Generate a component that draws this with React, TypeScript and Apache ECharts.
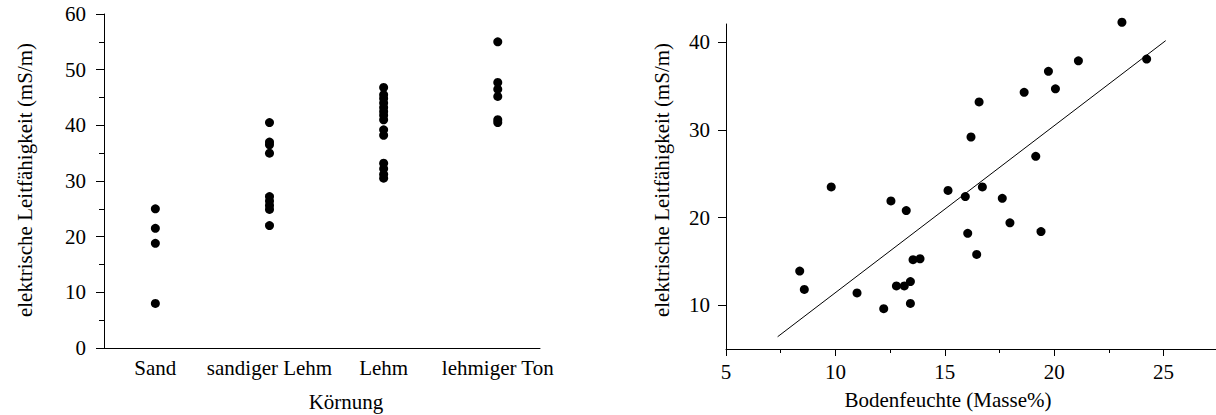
import React, { useEffect, useRef } from "react";
import * as echarts from "echarts";

// Left panel: categories and conductivity values per soil texture class
const categories = ["Sand", "sandiger Lehm", "Lehm", "lehmiger Ton"];
const sandValues = [25, 21.5, 18.8, 8];
const sandigerLehmValues = [40.5, 37, 36.5, 35, 27.2, 26.4, 25.6, 24.9, 22];
const lehmValues = [46.8, 45.5, 44.8, 44, 43.2, 42.5, 41.8, 41, 39.2, 38.2, 33.2, 32.2, 31.2, 30.5];
const lehmigerTonValues = [55, 47.7, 46.5, 45.2, 41, 40.5];
const leftYTicks = [0, 10, 20, 30, 40, 50, 60];

// Right panel: soil moisture (x) vs conductivity (y)
const moisture = [
  9.81, 12.54, 13.24, 13.55, 13.87, 8.37, 8.58, 10.99, 12.79, 13.15,
  13.43, 12.21, 13.43, 15.15, 15.94, 16.72, 17.63, 17.98, 19.4, 16.05,
  16.46, 23.1, 24.23, 21.11, 19.74, 20.06, 18.63, 16.57, 16.2, 19.16,
];
const conductivity = [
  23.5, 21.9, 20.8, 15.2, 15.3, 13.9, 11.8, 11.4, 12.2, 12.2,
  12.7, 9.6, 10.2, 23.1, 22.4, 23.5, 22.2, 19.4, 18.4, 18.2,
  15.8, 42.3, 38.1, 37.9, 36.7, 34.7, 34.3, 33.2, 29.2, 27.0,
];
const regLineX = [7.36, 25.1];
const regLineY = [6.4, 40.2];
const rightYMajor = [10, 20, 30, 40];
const rightYMinor = [15, 25, 35];

const FONT = '"Liberation Serif", "Times New Roman", serif';
const FS = 21;

export default function App() {
  const ref = useRef<HTMLDivElement>(null);
  useEffect(() => {
    if (!ref.current) return;
    const chart = echarts.init(ref.current, null, { renderer: "svg" });
    const groups = [sandValues, sandigerLehmValues, lehmValues, lehmigerTonValues];
    const leftData: number[][] = [];
    groups.forEach((g, i) => g.forEach((v) => leftData.push([i + 1, v])));
    const rightData = moisture.map((x, i) => [x, conductivity[i]]);
    const lineStyle = { color: "#000", width: 1 };
    const labelStyle = { color: "#000", fontFamily: FONT, fontSize: FS };
    const titleStyle = (text: string) => ({
      text,
      font: `${FS}px ${FONT}`,
      fill: "#000",
      align: "center",
      verticalAlign: "middle",
    });
    chart.setOption({
      animation: false,
      backgroundColor: "#fff",
      textStyle: { fontFamily: FONT },
      grid: [
        { left: 104, top: 14, width: 436, height: 334 },
        { left: 726, top: 24, width: 490, height: 325 },
      ],
      xAxis: [
        {
          gridIndex: 0,
          type: "value",
          min: 0.55,
          max: 4.37,
          splitLine: { show: false },
          axisLine: { lineStyle },
          axisTick: { show: false },
          axisLabel: {
            ...labelStyle,
            margin: 9,
            customValues: [1, 2, 3, 4],
            formatter: (v: number) => categories[Math.round(v) - 1] ?? "",
          },
        },
        {
          gridIndex: 1,
          type: "value",
          min: 5,
          max: 27.4,
          interval: 5,
          splitLine: { show: false },
          axisLine: { onZero: false, lineStyle },
          axisTick: { length: 7, lineStyle },
          minorTick: { show: true, splitNumber: 2, length: 4, lineStyle },
          axisLabel: { ...labelStyle, margin: 12, showMaxLabel: false },
        },
      ],
      yAxis: [
        {
          gridIndex: 0,
          type: "value",
          min: 0,
          max: 60,
          interval: 10,
          splitLine: { show: false },
          axisLine: { show: true, lineStyle },
          axisTick: { show: true, length: 8, lineStyle },
          minorTick: { show: true, splitNumber: 2, length: 5, lineStyle },
          axisLabel: { ...labelStyle, margin: 18, customValues: leftYTicks },
        },
        {
          gridIndex: 1,
          type: "value",
          min: 5,
          max: 42.1,
          splitLine: { show: false },
          axisLine: { show: true, onZero: false, lineStyle },
          axisTick: { show: true, length: 8, lineStyle, customValues: rightYMajor },
          axisLabel: { ...labelStyle, margin: 16, customValues: rightYMajor },
        },
        {
          gridIndex: 1,
          type: "value",
          min: 5,
          max: 42.1,
          splitLine: { show: false },
          axisLine: { show: false },
          axisTick: { show: true, length: 4, lineStyle, customValues: rightYMinor },
          axisLabel: { show: false },
        },
      ],
      series: [
        {
          type: "scatter",
          xAxisIndex: 0,
          yAxisIndex: 0,
          data: leftData,
          symbolSize: 9,
          clip: false,
          itemStyle: { color: "#000", opacity: 1 },
        },
        {
          type: "scatter",
          xAxisIndex: 1,
          yAxisIndex: 1,
          data: rightData,
          symbolSize: 9,
          clip: false,
          itemStyle: { color: "#000", opacity: 1 },
        },
        {
          type: "line",
          xAxisIndex: 1,
          yAxisIndex: 1,
          data: regLineX.map((x, i) => [x, regLineY[i]]),
          symbol: "none",
          clip: false,
          lineStyle: { color: "#000", width: 1 },
        },
      ],
      graphic: [
        { type: "text", x: 25, y: 180, rotation: Math.PI / 2, style: titleStyle("elektrische Leitfähigkeit (mS/m)") },
        { type: "text", x: 346, y: 402, style: titleStyle("Körnung") },
        { type: "text", x: 662, y: 180, rotation: Math.PI / 2, style: titleStyle("elektrische Leitfähigkeit (mS/m)") },
        { type: "text", x: 948, y: 400, style: titleStyle("Bodenfeuchte (Masse%)") },
      ],
    });
    return () => chart.dispose();
  }, []);
  return (
    <div
      ref={ref}
      style={{ position: "fixed", left: 0, top: 0, width: 1216, height: 415, background: "#fff" }}
    />
  );
}
